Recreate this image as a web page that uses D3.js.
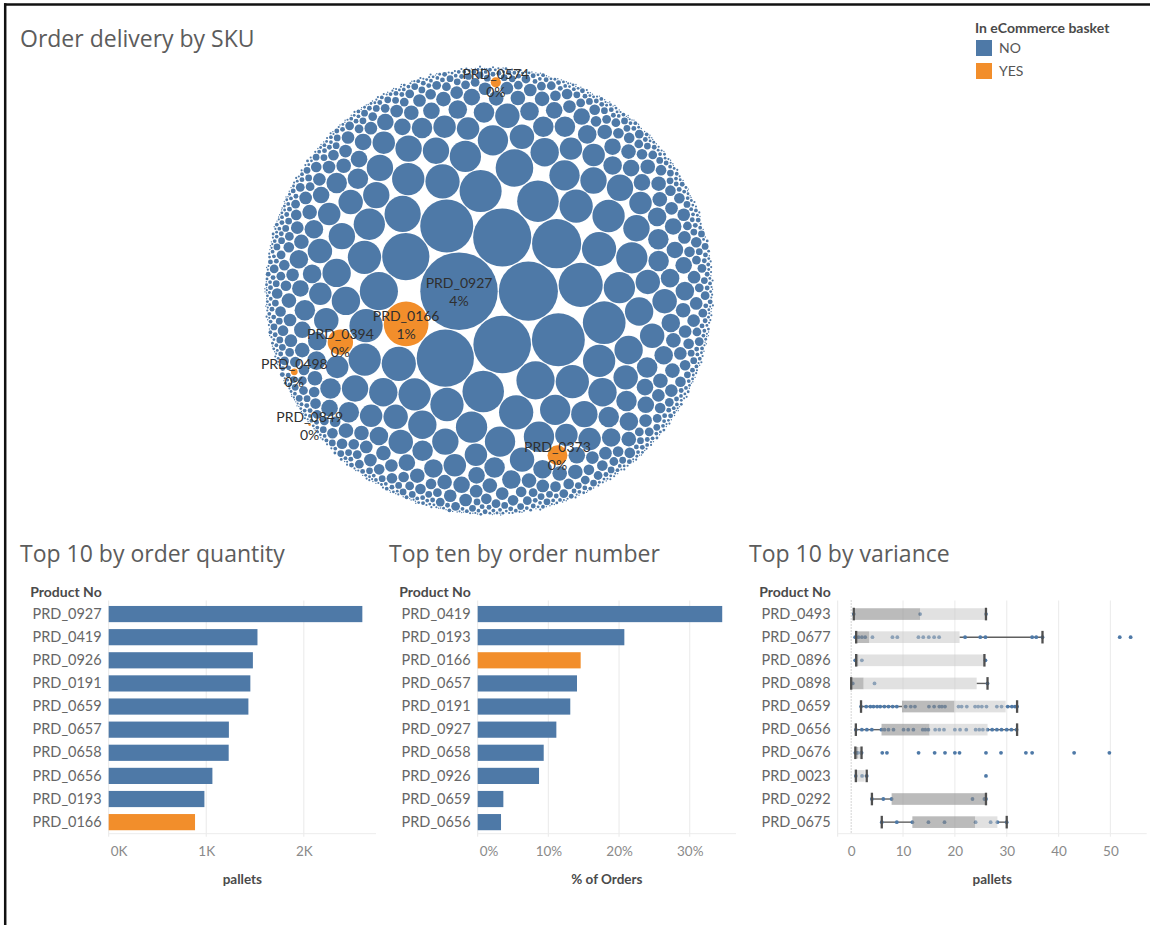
<!DOCTYPE html>
<html><head><meta charset="utf-8">
<script src="https://cdn.jsdelivr.net/npm/d3@7"></script>
<style>
body{margin:0;background:#fff;}
svg{display:block;font-family:Lato,"Open Sans",sans-serif;}
.title{font-family:"Open Sans",Lato,sans-serif;font-size:23px;font-weight:400;fill:#5c5c5c;}
.hdr{font-size:14px;font-weight:700;fill:#4a4a4a;}
.axtitle{font-size:13.5px;font-weight:700;fill:#4a4a4a;}
</style></head><body>
<svg id="dash" width="1150" height="925"></svg>
<script>
// SKUs that sit in the eCommerce basket
const ecommerceSkus = ["PRD_0166","PRD_0394","PRD_0373","PRD_0498","PRD_0849","PRD_0574"];

// Top 10 by order quantity (pallets)
const qtyProducts = ["PRD_0927","PRD_0419","PRD_0926","PRD_0191","PRD_0659","PRD_0657","PRD_0658","PRD_0656","PRD_0193","PRD_0166"];
const qtyPallets = [2600,1525,1478,1452,1432,1232,1230,1063,981,885];
const qtyTicks = [0,1000,2000];

// Top ten by order number (% of orders)
const orderProducts = ["PRD_0419","PRD_0193","PRD_0166","PRD_0657","PRD_0191","PRD_0927","PRD_0658","PRD_0926","PRD_0659","PRD_0656"];
const orderShare = [0.346,0.2075,0.1457,0.1405,0.131,0.1113,0.0934,0.0868,0.0363,0.033];
const orderTicks = [0,0.1,0.2,0.3];

// Top 10 by variance (pallets per order)
const varProducts = ["PRD_0493","PRD_0677","PRD_0896","PRD_0898","PRD_0659","PRD_0656","PRD_0676","PRD_0023","PRD_0292","PRD_0675"];
const varLow    = [0.5, 0.96, 0.96, 0,   1.9, 0.9, 0.8, 0.9, 4.0, 5.9];
const varQ1     = [0.5, 0.96, 0.96, 0,   9.8, 5.85,0.9, 0.9, 7.8, 11.8];
const varMedian = [13.3,3.47, 1.4,  2.4, 19.9,15.1,1.3, 1.2, 26.0,23.9];
const varQ3     = [26.0,20.9, 25.6, 24.2,29.8,26.3,1.9, 2.6, 26.0,28.2];
const varHigh   = [26.0,36.9, 25.7, 26.3,32.0,32.0,2.0, 3.0, 26.0,30.0];
const varPoints = [
  [0.5,13.3,26.0],
  [0.77,1.41,2.06,2.7,4.1,7.96,8.9,12.97,13.9,14.97,16.0,16.96,21.97,24.9,25.9,34.9,35.7,36.9,51.8,53.9],
  [0.77,2.06,25.9],
  [0.3,4.5,26.3],
  [1.9,2.9,3.7,4.3,5.0,5.6,6.4,7.2,8.0,8.8,10.5,11.5,12.3,15.0,16.0,17.0,17.5,18.1,20.7,21.3,22.3,23.9,24.5,25.2,26.1,28.1,29.0,30.2,31.0,31.6,32.0],
  [0.9,2.06,3.02,3.98,5.84,6.42,7.19,8.16,10.1,11.0,12.0,13.8,14.3,14.9,16.2,17.0,17.9,20.0,21.0,22.2,24.0,24.7,25.4,26.3,27.2,28.1,29.0,30.0,30.9,31.9],
  [0.8,1.0,1.3,1.9,2.0,6.0,6.9,13.0,16.1,18.1,20.0,20.9,26.0,28.9,33.7,34.9,43.0,49.8],
  [0.9,2.1,3.0,26.0],
  [4.0,6.2,7.8,23.4,25.7,26.0],
  [5.9,8.8,11.8,14.9,18.0,24.0,26.9,28.2,30.0]
];
const varTicks = [0,10,20,30,40,50];

// Order delivery by SKU: remaining labelled SKUs (pallets)
const otherSkus = ["PRD_0394","PRD_0373","PRD_0574","PRD_0498","PRD_0849"];
const otherPallets = [296,186,53,26,6];
// all other SKUs, grouped by pallets per SKU and the number of SKUs in each group
const bandPallets = [860,808,786,765,650,630,587,526,498,470,442,416,366,318,275,234,197,163,132,104,80,58,41,26,15,10,6.5,3.7,1.6];
const bandCounts  = [1,1,1,2,2,1,1,4,5,5,5,5,8,11,12,14,16,20,24,30,38,48,58,75,100,110,130,150,180];

const legendKeys = ["NO","YES"];

const W = 1150, H = 925;
const blue = "#4e79a7", orange = "#f28e2b";
const colorOf = sku => ecommerceSkus.includes(sku) ? orange : blue;
const svg = d3.select("#dash");

// dashboard frame
svg.append("line").attr("x1",4).attr("x2",W).attr("y1",4.5).attr("y2",4.5).attr("stroke","#111").attr("stroke-width",2.5);
svg.append("line").attr("x1",5.2).attr("x2",5.2).attr("y1",3.3).attr("y2",H).attr("stroke","#111").attr("stroke-width",2.5);

// ---------- packed bubbles ----------
svg.append("text").attr("class","title").attr("x",20).attr("y",47).text("Order delivery by SKU");

const bubbles = [];
qtyProducts.forEach((p,i)=>bubbles.push({sku:p,v:qtyPallets[i]}));
otherSkus.forEach((p,i)=>bubbles.push({sku:p,v:otherPallets[i]}));
bandPallets.forEach((v,i)=>{for(let j=0;j<bandCounts[i];j++) bubbles.push({sku:null,v});});
bubbles.sort((a,b)=>b.v-a.v);
bubbles.forEach(d=>d.r=Math.sqrt(d.v));
d3.packSiblings(bubbles);
const enc = d3.packEnclose(bubbles);
const packR = 226, packCx = 489, packCy = 291;
const kScale = packR/enc.r;
const rScale = d3.scaleSqrt().domain([0,1]).range([0,kScale]);
const total = d3.sum(bubbles,d=>d.v);
const pct = d3.format(".0%");
bubbles.forEach(d=>{
  d.px = packCx + (d.x-enc.x)*kScale;
  d.py = packCy - (d.y-enc.y)*kScale;   // mirrored vertically
  d.pr = rScale(d.v);
});
const gB = svg.append("g");
gB.selectAll("circle").data(bubbles).join("circle")
  .attr("cx",d=>d.px).attr("cy",d=>d.py)
  .attr("r",d=>d.pr>2 ? d.pr-0.55 : Math.max(0.35,d.pr*0.72))
  .attr("fill",d=>colorOf(d.sku));
const labelled = bubbles.filter(d=>d.sku==="PRD_0927" || ecommerceSkus.includes(d.sku));
const gL = gB.selectAll("g.lbl").data(labelled).join("g").attr("class","lbl")
  .attr("transform",d=>`translate(${d.px},${d.py})`)
  .style("font-size","14px").attr("fill","#2f2f2f").attr("text-anchor","middle");
gL.append("text").attr("y",-3).text(d=>d.sku);
gL.append("text").attr("y",15).text(d=>pct(d.v/total));

// legend
svg.append("text").attr("x",975).attr("y",33).style("font-size","14px").style("font-weight",700).attr("fill","#4a4a4a").text("In eCommerce basket");
const lg = svg.selectAll("g.leg").data(legendKeys).join("g").attr("class","leg")
  .attr("transform",(d,i)=>`translate(976,${40+i*23})`);
lg.append("rect").attr("width",16).attr("height",16).attr("fill",(d,i)=>i?orange:blue);
lg.append("text").attr("x",23).attr("y",13).style("font-size","14px").attr("fill","#555").text(d=>d);

// ---------- bar / box panels ----------
const plotTop = 602.5, plotBottom = 833.7;

function panel(o){
  const x = d3.scaleLinear().domain(o.domain).range([o.left,o.right]);
  const y = d3.scaleBand().domain(o.products).range([plotTop,plotBottom]).paddingInner(0.3).paddingOuter(0.15);
  svg.append("text").attr("class","title").attr("x",o.titleX).attr("y",562).text(o.title);
  svg.append("text").attr("class","hdr").attr("x",o.left-7).attr("y",597).attr("text-anchor","end").text("Product No");
  const g = svg.append("g");
  g.selectAll("line.grid").data(o.ticks.filter(t=>t!==0)).join("line").attr("class","grid")
    .attr("x1",d=>x(d)).attr("x2",d=>x(d)).attr("y1",plotTop-2).attr("y2",plotBottom+3)
    .attr("stroke","#ededed").attr("stroke-width",1.2);
  g.append("line").attr("x1",o.left).attr("x2",o.left).attr("y1",plotTop-2).attr("y2",plotBottom+3).attr("stroke","#e8e8e8");
  g.append("line").attr("x1",o.left).attr("x2",o.right).attr("y1",plotBottom).attr("y2",plotBottom).attr("stroke","#ececec");
  // x axis
  const axg = svg.append("g").attr("transform",`translate(0,${plotBottom})`)
    .call(d3.axisBottom(x).tickValues(o.ticks).tickFormat(o.fmt).tickSize(0));
  axg.select(".domain").remove();
  axg.attr("font-family",null).attr("font-size",null);
  axg.selectAll("text").attr("y",22.5).attr("dy",0).attr("fill","#8a8a8a").style("font-size","13.5px");
  if (o.startFirst) axg.selectAll(".tick").filter(d=>d===0).select("text").attr("text-anchor","start").attr("x",1.5);
  svg.append("text").attr("class","axtitle").attr("x",(o.left+o.right)/2).attr("y",884).attr("text-anchor","middle").text(o.axisTitle);
  // y axis
  const ayg = svg.append("g").attr("transform",`translate(${o.left},0)`)
    .call(d3.axisLeft(y).tickSize(0).tickPadding(7));
  ayg.select(".domain").remove();
  ayg.attr("font-family",null).attr("font-size",null);
  ayg.selectAll("text").attr("fill","#666").style("font-size","14.5px");
  return {x,y,g};
}

// Top 10 by order quantity
{
  const p = panel({title:"Top 10 by order quantity",titleX:20,left:108.7,right:376,domain:[0,2740],
    products:qtyProducts,ticks:qtyTicks,fmt:d=>d/1000+"K",axisTitle:"pallets",startFirst:true});
  p.g.selectAll("rect.bar").data(qtyProducts).join("rect").attr("class","bar")
    .attr("x",p.x(0)).attr("y",d=>p.y(d)).attr("height",p.y.bandwidth())
    .attr("width",(d,i)=>p.x(qtyPallets[i])-p.x(0)).attr("fill",d=>colorOf(d));
}
// Top ten by order number
{
  const p = panel({title:"Top ten by order number",titleX:389,left:477.7,right:736,domain:[0,0.3655],
    products:orderProducts,ticks:orderTicks,fmt:d3.format(".0%"),axisTitle:"% of Orders",startFirst:true});
  p.g.selectAll("rect.bar").data(orderProducts).join("rect").attr("class","bar")
    .attr("x",p.x(0)).attr("y",d=>p.y(d)).attr("height",p.y.bandwidth())
    .attr("width",(d,i)=>p.x(orderShare[i])-p.x(0)).attr("fill",d=>colorOf(d));
}
// Top 10 by variance
{
  const p = panel({title:"Top 10 by variance",titleX:749,left:837.7,right:1146.7,domain:[-2.6,57],
    products:varProducts,ticks:varTicks,fmt:d3.format("d"),axisTitle:"pallets",startFirst:false});
  const x = p.x, y = p.y, g = p.g;
  g.append("line").attr("x1",x(0)).attr("x2",x(0)).attr("y1",plotTop-2).attr("y2",plotBottom)
    .attr("stroke","#aaa").attr("stroke-dasharray","1,2");
  const bh = y.bandwidth()*0.72;
  varProducts.forEach((sku,i)=>{
    const cy = y(sku)+y.bandwidth()/2;
    const row = g.append("g");
    row.append("line").attr("x1",x(varLow[i])).attr("x2",x(varQ1[i])).attr("y1",cy).attr("y2",cy).attr("stroke","#5f5f5f").attr("stroke-width",1.4);
    row.append("line").attr("x1",x(varQ3[i])).attr("x2",x(varHigh[i])).attr("y1",cy).attr("y2",cy).attr("stroke","#5f5f5f").attr("stroke-width",1.4);
    row.selectAll("circle").data(varPoints[i]).join("circle")
      .attr("cx",d=>x(d)).attr("cy",cy).attr("r",1.9).attr("fill",blue);
    row.append("rect").attr("x",x(varQ1[i])).attr("y",cy-bh/2).attr("height",bh)
      .attr("width",x(varMedian[i])-x(varQ1[i])).attr("fill","#8e8e8e").attr("fill-opacity",0.6);
    row.append("rect").attr("x",x(varMedian[i])).attr("y",cy-bh/2).attr("height",bh)
      .attr("width",x(varQ3[i])-x(varMedian[i])).attr("fill","#c6c6c6").attr("fill-opacity",0.52);
    [varLow[i],varHigh[i]].forEach(v=>{
      row.append("line").attr("x1",x(v)).attr("x2",x(v)).attr("y1",cy-6.3).attr("y2",cy+6.3)
        .attr("stroke","#4f4f4f").attr("stroke-width",2.3);
    });
  });
}
</script></body></html>
